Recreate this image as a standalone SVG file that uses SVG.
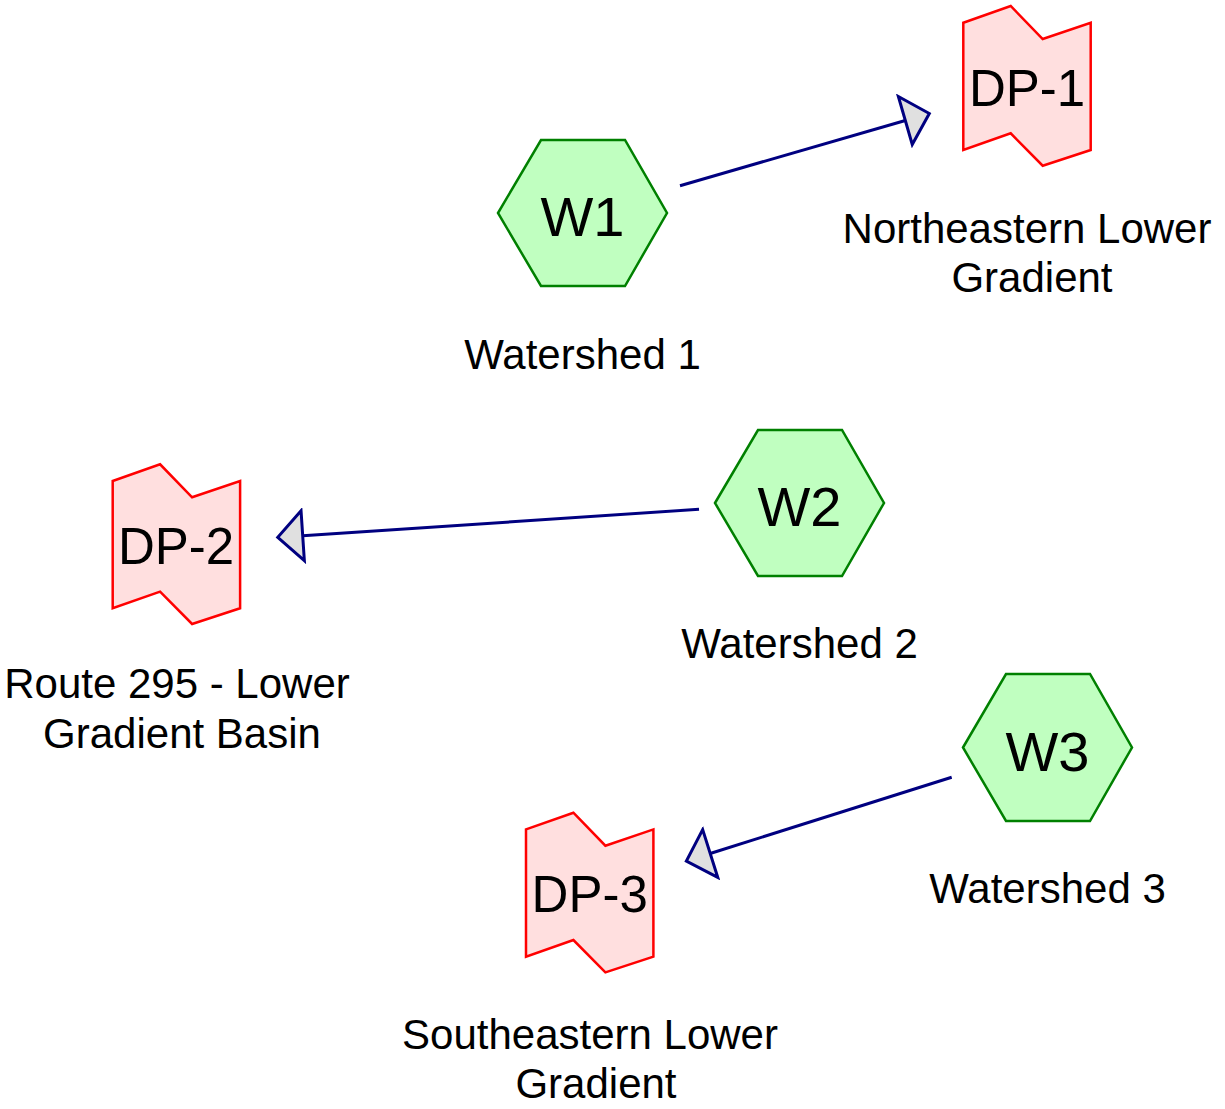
<svg xmlns="http://www.w3.org/2000/svg" width="1225" height="1109" viewBox="0 0 1225 1109">
<style>
.hex{fill:#c0ffc0;stroke:#008000;stroke-width:2.5}
.dp{fill:#ffdfdf;stroke:#ff0000;stroke-width:2.5}
.edge{stroke:#000080;stroke-width:3;fill:none;marker-end:url(#arr)}
.lbl{font-family:"Liberation Sans",Arial,sans-serif;fill:#000;text-anchor:middle}
.big{font-size:56px}
.dpt{font-size:51px}
.cap{font-size:42px}
</style>
<defs>
<marker id="arr" markerUnits="userSpaceOnUse" viewBox="-2 -28 30 56" markerWidth="30" markerHeight="56" refX="0" refY="0" orient="auto">
<path d="M0,-25 L25,0 L0,25 Z" fill="#e0e0e0" stroke="#000080" stroke-width="3" stroke-linejoin="miter"/>
</marker>
<path id="dpshape" d="M0,16.7 L47.4,0 L79.4,33 L127.4,16.7 L127.4,144 L79.4,159.7 L47.4,127.3 L0,144 Z"/>
</defs>
<g id="connectors">
<line class="edge" x1="680" y1="185.7" x2="905.3" y2="120.5"/>
<line class="edge" x1="699" y1="509.3" x2="302.7" y2="535.7"/>
<line class="edge" x1="951.7" y1="777.3" x2="710.2" y2="853.5"/>
</g>
<g id="W1">
<polygon class="hex" points="498,213 541,140 625,140 667,213 625,286 541,286"/>
<text class="lbl big" x="582.5" y="236">W1</text>
<text class="lbl cap" x="582.5" y="369">Watershed 1</text>
</g>
<g id="W2">
<polygon class="hex" points="715,503 758,430 842,430 884,503 842,576 758,576"/>
<text class="lbl big" x="799.5" y="526">W2</text>
<text class="lbl cap" x="799.5" y="658">Watershed 2</text>
</g>
<g id="W3">
<polygon class="hex" points="963,747.5 1006,674 1090,674 1132,747.5 1090,821 1006,821"/>
<text class="lbl big" x="1047.5" y="770.5">W3</text>
<text class="lbl cap" x="1047.5" y="903">Watershed 3</text>
</g>
<g id="DP-1">
<use href="#dpshape" class="dp" x="963.3" y="6"/>
<text class="lbl dpt" x="1027" y="106">DP-1</text>
<text class="lbl cap" x="1027" y="243">Northeastern Lower</text>
<text class="lbl cap" x="1032" y="292">Gradient</text>
</g>
<g id="DP-2">
<use href="#dpshape" class="dp" x="112.7" y="464.3"/>
<text class="lbl dpt" x="176" y="564.3">DP-2</text>
<text class="lbl cap" x="177" y="698">Route 295 - Lower</text>
<text class="lbl cap" x="182" y="748">Gradient Basin</text>
</g>
<g id="DP-3">
<use href="#dpshape" class="dp" x="526" y="812.7"/>
<text class="lbl dpt" x="589.7" y="912">DP-3</text>
<text class="lbl cap" x="590" y="1049">Southeastern Lower</text>
<text class="lbl cap" x="596" y="1098">Gradient</text>
</g>
</svg>
